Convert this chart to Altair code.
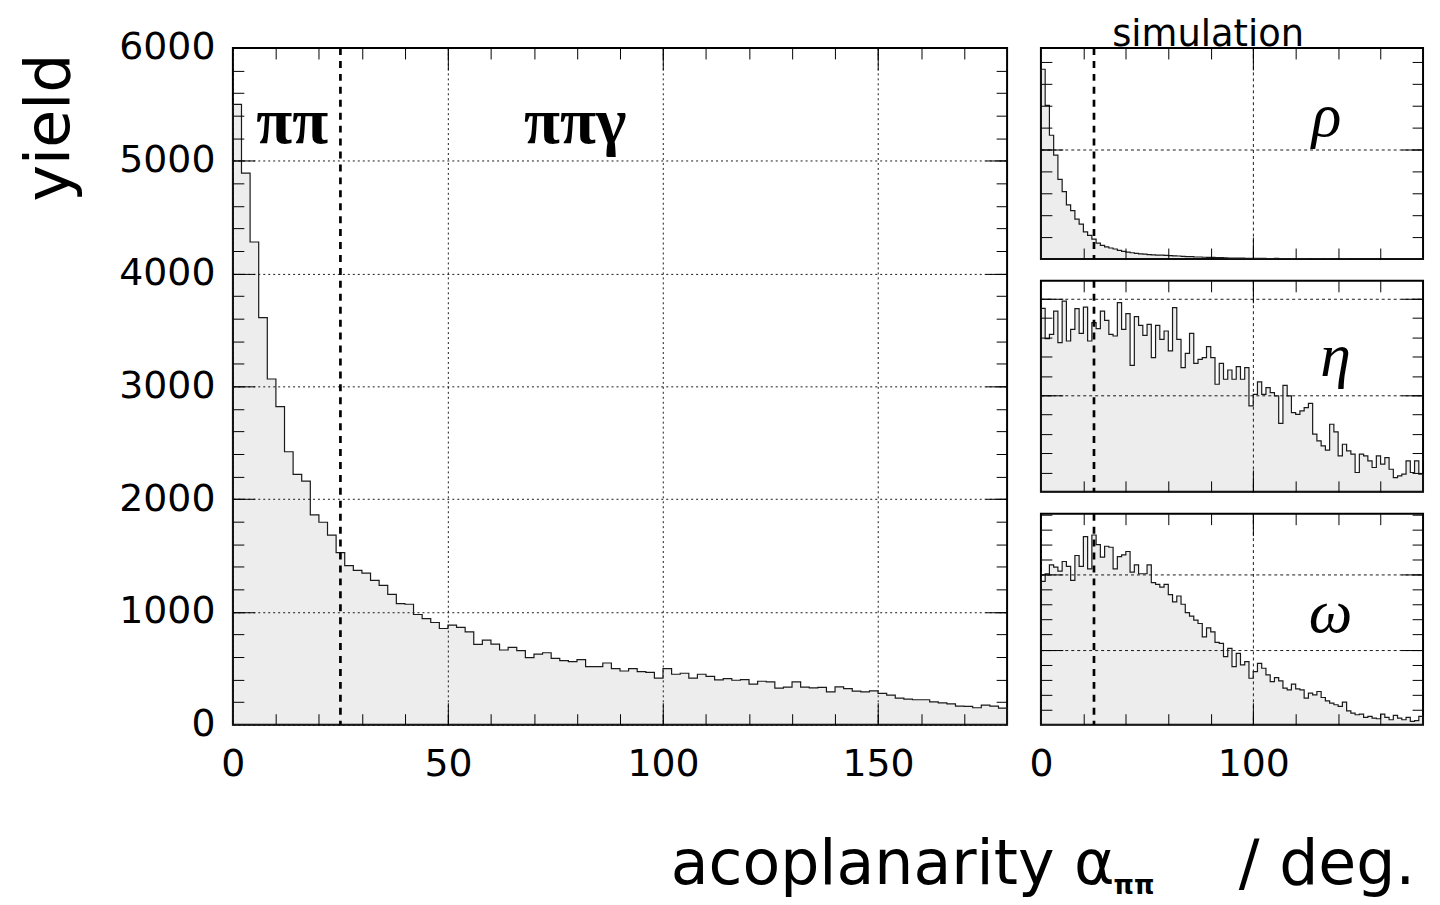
import altair as alt
import pandas as pd

FONT = "DejaVu Sans"
GREEK_FONT = "Liberation Serif"

BIN_WIDTH = 2
CUT_ANGLE = 25

# ---- data: yield per 2-degree bin, 0..180 deg ----
main_yield = [
    5500, 4890, 4280, 3610, 3065, 2820, 2420, 2220, 2160, 1860,
    1795, 1680, 1525, 1410, 1368, 1344, 1279, 1235, 1156, 1074,
    1068, 977, 941, 906, 853, 882, 862, 823, 712, 750,
    715, 662, 686, 656, 594, 626, 638, 588, 568, 559,
    577, 515, 515, 547, 497, 476, 497, 471, 464, 412,
    497, 447, 456, 412, 447, 429, 397, 409, 394, 400,
    359, 385, 379, 324, 333, 379, 333, 326, 330, 291,
    335, 320, 297, 291, 300, 277, 262, 235, 226, 221,
    221, 203, 194, 185, 165, 162, 150, 174, 165, 147,
]
rho_yield = [
    1733, 1403, 1130, 948, 727, 615, 494, 442, 364, 318,
    248, 215, 182, 144, 125, 110, 100, 91, 78, 70,
    62, 57, 52, 46, 44, 40, 38, 36, 35, 33,
    30, 29, 27, 24, 22, 21, 18, 18, 16, 15,
    14, 12, 12, 11, 9, 9, 8, 7, 6, 6,
    5, 5, 6, 4, 4, 5, 4, 3, 4, 3,
    3, 4, 3, 2, 3, 3, 2, 3, 2, 2,
    2, 3, 2, 2, 1, 2, 2, 1, 2, 1,
    1, 2, 1, 1, 1, 2, 1, 1, 1, 1,
]
eta_yield = [
    1900, 1586, 1631, 1872, 1545, 1976, 1562, 1683, 1897, 1641,
    1914, 1562, 1752, 1690, 1872, 1776, 1631, 1614, 1959, 1683,
    1845, 1310, 1814, 1724, 1621, 1734, 1390, 1724, 1579, 1666,
    1459, 1907, 1579, 1286, 1434, 1641, 1331, 1372, 1390, 1503,
    1390, 1114, 1331, 1166, 1262, 1166, 1297, 1166, 1286, 890,
    1010, 1138, 1010, 1079, 1028, 993, 710, 1103, 993, 821,
    803, 838, 872, 917, 597, 528, 476, 431, 700, 621,
    372, 493, 424, 390, 200, 390, 372, 321, 252, 372,
    286, 355, 234, 148, 166, 183, 321, 200, 321, 183,
]
omega_yield = [
    1907, 2009, 2128, 2097, 2044, 2172, 2106, 1921, 2252, 2106,
    2503, 2075, 2525, 2397, 2230, 2375, 2362, 2075, 2238, 2260,
    2305, 2031, 2128, 2009, 2009, 2128, 1890, 1868, 1832, 1868,
    1731, 1634, 1713, 1603, 1492, 1444, 1391, 1347, 1170, 1289,
    1236, 1095, 1082, 905, 1015, 773, 949, 795, 839, 618,
    706, 817, 751, 662, 574, 627, 583, 486, 464, 539,
    477, 464, 353, 419, 397, 442, 362, 318, 287, 265,
    243, 300, 185, 155, 132, 141, 97, 110, 88, 79,
    141, 97, 66, 124, 88, 66, 97, 44, 53, 110,
]

# ---- axes / ticks ----
main_x_labels = [0, 50, 100, 150]
main_x_major = [50, 100, 150]
main_x_minor = list(range(10, 180, 10))
main_y_labels = [0, 1000, 2000, 3000, 4000, 5000, 6000]
main_y_major = [1000, 2000, 3000, 4000, 5000]
main_y_minor = list(range(200, 6000, 200))

side_x_labels = [0, 100]
side_x_major = [100]
side_x_minor = list(range(20, 180, 20))

rho_ymax, eta_ymax, omega_ymax = 1927, 2185, 2808
rho_major = [1000]
eta_major = [1000, 2000]
omega_major = [1000, 2000]

# ---- annotations (data coordinates) ----
region_labels = ["ππ", "ππγ"]
region_label_x = [13.8, 79.6]
region_label_y = [5160, 5160]

greek_labels = {"rho": ("ρ", 134.5, 1125), "eta": ("η", 138.8, 1200), "omega": ("ω", 136.4, 1230)}

MAIN_W, MAIN_H = 778, 680
SIDE_W, SIDE_H = 384, 212


def hist_frame(vals):
    edges = [i * BIN_WIDTH for i in range(len(vals) + 1)]
    return pd.DataFrame({"x": edges, "y": list(vals) + [vals[-1]]})


def tick_layers(df, xs, ys, W, H, xminor, xmajor, yminor, ymajor, minor_len, major_len):
    out = []
    for xv, yv, ln in ((xminor, yminor, minor_len), (xmajor, ymajor, major_len)):
        for xo, yo in (("top", "right"), ("bottom", "left")):
            common = dict(tickSize=ln, ticks=True, labels=False, domain=False, grid=False,
                          title=None, tickColor="black", tickWidth=1, zindex=2)
            out.append(
                alt.Chart(df).mark_point(opacity=0).encode(
                    x=alt.X("x:Q", scale=xs, axis=alt.Axis(orient=xo, offset=-H, values=xv, **common)),
                    y=alt.Y("y:Q", scale=ys, axis=alt.Axis(orient=yo, offset=-W, values=yv, **common)),
                )
            )
    return out


def text_piece(txt, xpx, ypx, size, align, weight="normal", font=FONT, style="normal"):
    return alt.Chart(pd.DataFrame({"t": [txt]})).mark_text(
        text=txt, font=font, fontSize=size, fontWeight=weight, fontStyle=style,
        align=align, baseline="alphabetic", color="black",
    ).encode(x=alt.value(xpx), y=alt.value(ypx))


AREA_STYLE = dict(interpolate="step-after", fill="black", fillOpacity=0.07,
                  stroke="#1a1a1a", strokeWidth=1.2)
CUT_STYLE = dict(strokeDash=[7, 6], strokeWidth=2.7, color="black")

# ---------------- main panel ----------------
df_main = hist_frame(main_yield)
xs_main = alt.Scale(domain=[0, 180], nice=False, zero=False)
ys_main = alt.Scale(domain=[0, 6000], nice=False)

main_area = alt.Chart(df_main).mark_area(**AREA_STYLE).encode(
    x=alt.X("x:Q", scale=xs_main, axis=alt.Axis(
        orient="bottom", values=main_x_labels, ticks=False, domain=False, grid=True,
        gridDash=[2, 3], gridColor="black", gridWidth=1, gridOpacity=0.9, format="d",
        labelFontSize=38, labelPadding=21, labelFlush=False, labelOverlap=False, title=None)),
    y=alt.Y("y:Q", scale=ys_main, axis=alt.Axis(
        orient="left", values=main_y_labels, ticks=False, domain=False, grid=True,
        gridDash=[2, 3], gridColor="black", gridWidth=1, gridOpacity=0.9, format="d",
        labelFontSize=38, labelPadding=18, labelOverlap=False,
        title="yield", titleFontSize=62, titleFontWeight="normal", titleAngle=270,
        titleAlign="right", titleBaseline="alphabetic", titleX=-165, titleY=5)),
)
main_cut = alt.Chart(pd.DataFrame({"cut": [CUT_ANGLE]})).mark_rule(**CUT_STYLE).encode(
    x=alt.X("cut:Q", scale=xs_main, axis=None))
main_text = alt.Chart(pd.DataFrame({"label": region_labels, "x": region_label_x, "y": region_label_y})).mark_text(
    font=GREEK_FONT, fontSize=66, fontWeight="bold", baseline="alphabetic", align="center",
    color="black").encode(
    x=alt.X("x:Q", scale=xs_main, axis=None), y=alt.Y("y:Q", scale=ys_main, axis=None), text="label:N")

main = alt.layer(
    main_area, main_cut, main_text,
    *tick_layers(df_main, xs_main, ys_main, MAIN_W, MAIN_H,
                 main_x_minor, main_x_major, main_y_minor, main_y_major, 11, 22),
).resolve_axis(x="independent", y="independent").properties(width=MAIN_W, height=MAIN_H)


# ---------------- side panels ----------------
def side_panel(vals, ymax, ymajor, key, show_labels, extras):
    df = hist_frame(vals)
    xs = alt.Scale(domain=[0, 180], nice=False, zero=False)
    ys = alt.Scale(domain=[0, ymax], nice=False)
    xaxis = alt.Axis(
        orient="bottom", values=side_x_labels if show_labels else side_x_major,
        labels=show_labels, ticks=False, domain=False, grid=True, format="d",
        gridDash=[3, 3], gridColor="black", gridWidth=1, gridOpacity=0.9,
        labelFontSize=38, labelPadding=21, labelFlush=False, labelOverlap=False, title=None)
    yaxis = alt.Axis(
        orient="left", values=ymajor, labels=False, ticks=False, domain=False, grid=True,
        gridDash=[3, 3], gridColor="black", gridWidth=1, gridOpacity=0.9, title=None)
    area = alt.Chart(df).mark_area(**AREA_STYLE).encode(
        x=alt.X("x:Q", scale=xs, axis=xaxis), y=alt.Y("y:Q", scale=ys, axis=yaxis))
    cut = alt.Chart(pd.DataFrame({"cut": [CUT_ANGLE]})).mark_rule(**CUT_STYLE).encode(
        x=alt.X("cut:Q", scale=xs, axis=None))
    sym, gx, gy = greek_labels[key]
    greek = alt.Chart(pd.DataFrame({"label": [sym], "x": [gx], "y": [gy]})).mark_text(
        font=GREEK_FONT, fontSize=62, fontStyle="italic", baseline="alphabetic",
        align="center", color="black").encode(
        x=alt.X("x:Q", scale=xs, axis=None), y=alt.Y("y:Q", scale=ys, axis=None), text="label:N")
    y_minor = list(range(200, ymax, 200))
    layers = [area, cut, greek] + tick_layers(df, xs, ys, SIDE_W, SIDE_H,
                                               side_x_minor, side_x_major, y_minor, ymajor, 11, 22)
    layers += extras
    return alt.layer(*layers).resolve_axis(x="independent", y="independent").properties(
        width=SIDE_W, height=SIDE_H)


rho = side_panel(rho_yield, rho_ymax, rho_major, "rho", False,
                 [text_piece("simulation", 168, -2, 37, "center")])
eta = side_panel(eta_yield, eta_ymax, eta_major, "eta", False, [])
omega = side_panel(omega_yield, omega_ymax, omega_major, "omega", True, [
    text_piece("acoplanarity α", -372, 372, 62, "left"),
    text_piece("ππ", 73, 382, 26, "left", weight="bold"),
    text_piece("/ deg.", 376, 372, 62, "right"),
])

right = alt.vconcat(rho, eta, omega, spacing=22, bounds="flush")

chart = alt.hconcat(main, right, spacing=34, bounds="flush").properties(
    padding={"left": 10, "top": 5, "right": 5, "bottom": 5}
).configure_view(stroke="black", strokeWidth=2).configure_axis(
    labelFont=FONT, titleFont=FONT, labelColor="black", titleColor="black",
    tickColor="black", gridColor="black"
).configure_text(font=FONT)

chart.save("out.html", embed_options={"renderer": "svg", "actions": False})
